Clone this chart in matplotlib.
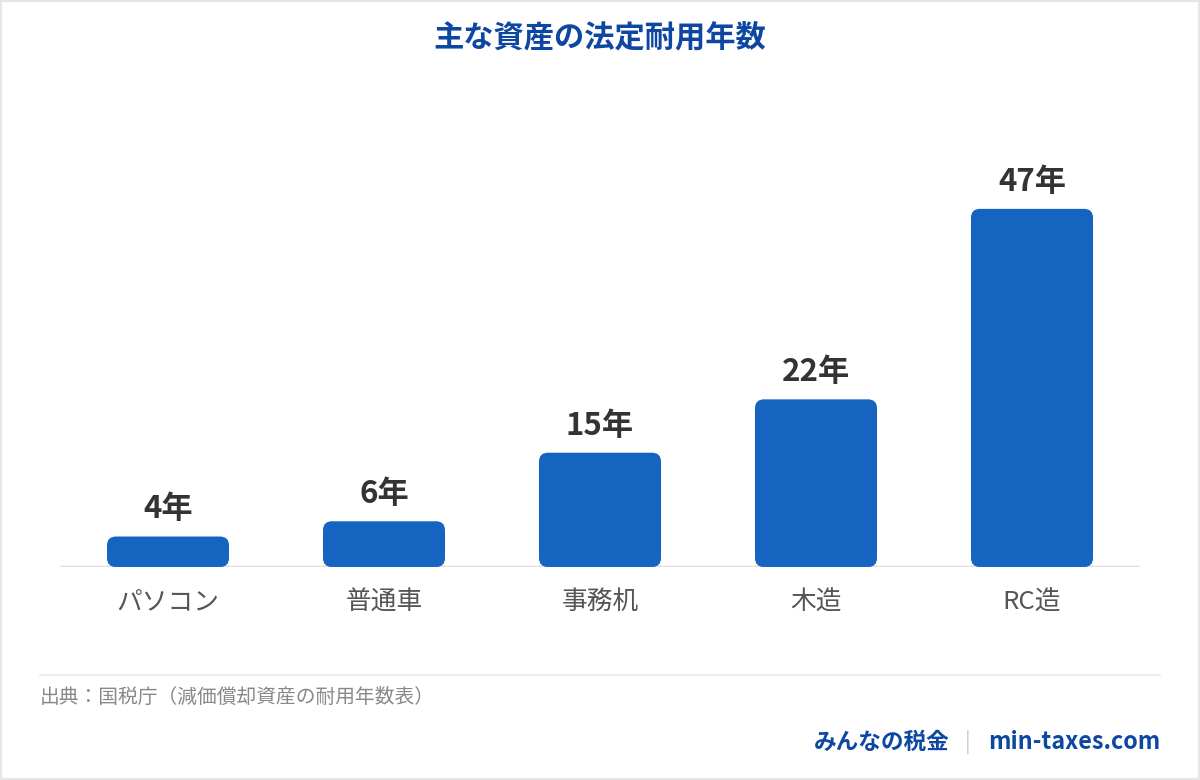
import matplotlib
matplotlib.use("Agg")
import matplotlib.pyplot as plt
from matplotlib.patches import FancyBboxPatch, Rectangle
from matplotlib.lines import Line2D

plt.rcParams['font.family'] = ['Noto Sans CJK JP', 'DejaVu Sans']

categories = ["パソコン", "普通車", "事務机", "木造", "RC造"]
values = [4, 6, 15, 22, 47]
value_labels = ["4年", "6年", "15年", "22年", "47年"]
title = "主な資産の法定耐用年数"
source = "出典：国税庁（減価償却資産の耐用年数表）"
brand = "みんなの税金"
site = "min-taxes.com"

W, H = 1200, 780
fig = plt.figure(figsize=(W / 100, H / 100), dpi=100)
fig.patch.set_facecolor("white")

# axes: x 60..1140 px, baseline at y=567 px, 7.62 px per unit
ymax = 60
ax_bottom = 567
ax_h = ymax * 7.62
ax = fig.add_axes([60 / W, 1 - ax_bottom / H, 1080 / W, ax_h / H])
ax.set_xlim(-0.5, len(categories) - 0.5)
ax.set_ylim(0, ymax)
for s in ax.spines.values():
    s.set_visible(False)
ax.set_yticks([])
ax.set_xticks(range(len(categories)))
ax.set_xticklabels(categories, fontsize=18.5, color="#555555")
ax.tick_params(axis="x", length=0, pad=16)

bar_color = "#1565C0"
bars = ax.bar(range(len(categories)), values, width=0.565, color=bar_color)
px_x = 1080 / 5.0
px_y = ax_h / ymax
r_px = 9
for b in bars:
    x0, y0 = b.get_x(), b.get_y()
    w, h = b.get_width(), b.get_height()
    b.set_visible(False)
    p = FancyBboxPatch((x0, y0), w, h,
                       boxstyle=f"round,pad=0,rounding_size={r_px / px_x}",
                       mutation_aspect=px_x / px_y,
                       facecolor=bar_color, edgecolor="none", zorder=3)
    ax.add_patch(p)

for i, (v, lab) in enumerate(zip(values, value_labels)):
    ax.annotate(lab, (i, v), xytext=(0, 8), textcoords="offset points",
                ha="center", va="bottom", fontsize=22.5, fontweight="bold",
                color="#333333")

ax.axhline(0, color="#dddddd", lw=2.5, zorder=2)

# title
fig.text(0.5, 1 - 37 / H, title, ha="center", va="center",
         fontsize=21.8, fontweight="bold", color="#0D47A1")

# separator
fig.add_artist(Line2D([40 / W, 1160 / W], [1 - 675 / H, 1 - 675 / H],
                      color="#eeeeee", lw=1.5))

# source
fig.text(40 / W, 1 - 697 / H, source, ha="left", va="center",
         fontsize=14.2, color="#888888")

# footer
fig.text(1160 / W, 1 - 742 / H, site, ha="right", va="center",
         fontsize=16.8, fontweight="bold", color="#0D47A1")
fig.text(968 / W, 1 - 742 / H, "|", ha="center", va="center",
         fontsize=15, color="#cccccc")
fig.text(950 / W, 1 - 742 / H, brand, ha="right", va="center",
         fontsize=16.3, fontweight="bold", color="#0D47A1")

# border
fig.add_artist(Rectangle((0, 0), 1, 1, transform=fig.transFigure,
                         fill=False, edgecolor="#e6e6e6", lw=3))

fig.savefig("out.png", dpi=100, facecolor="white")
